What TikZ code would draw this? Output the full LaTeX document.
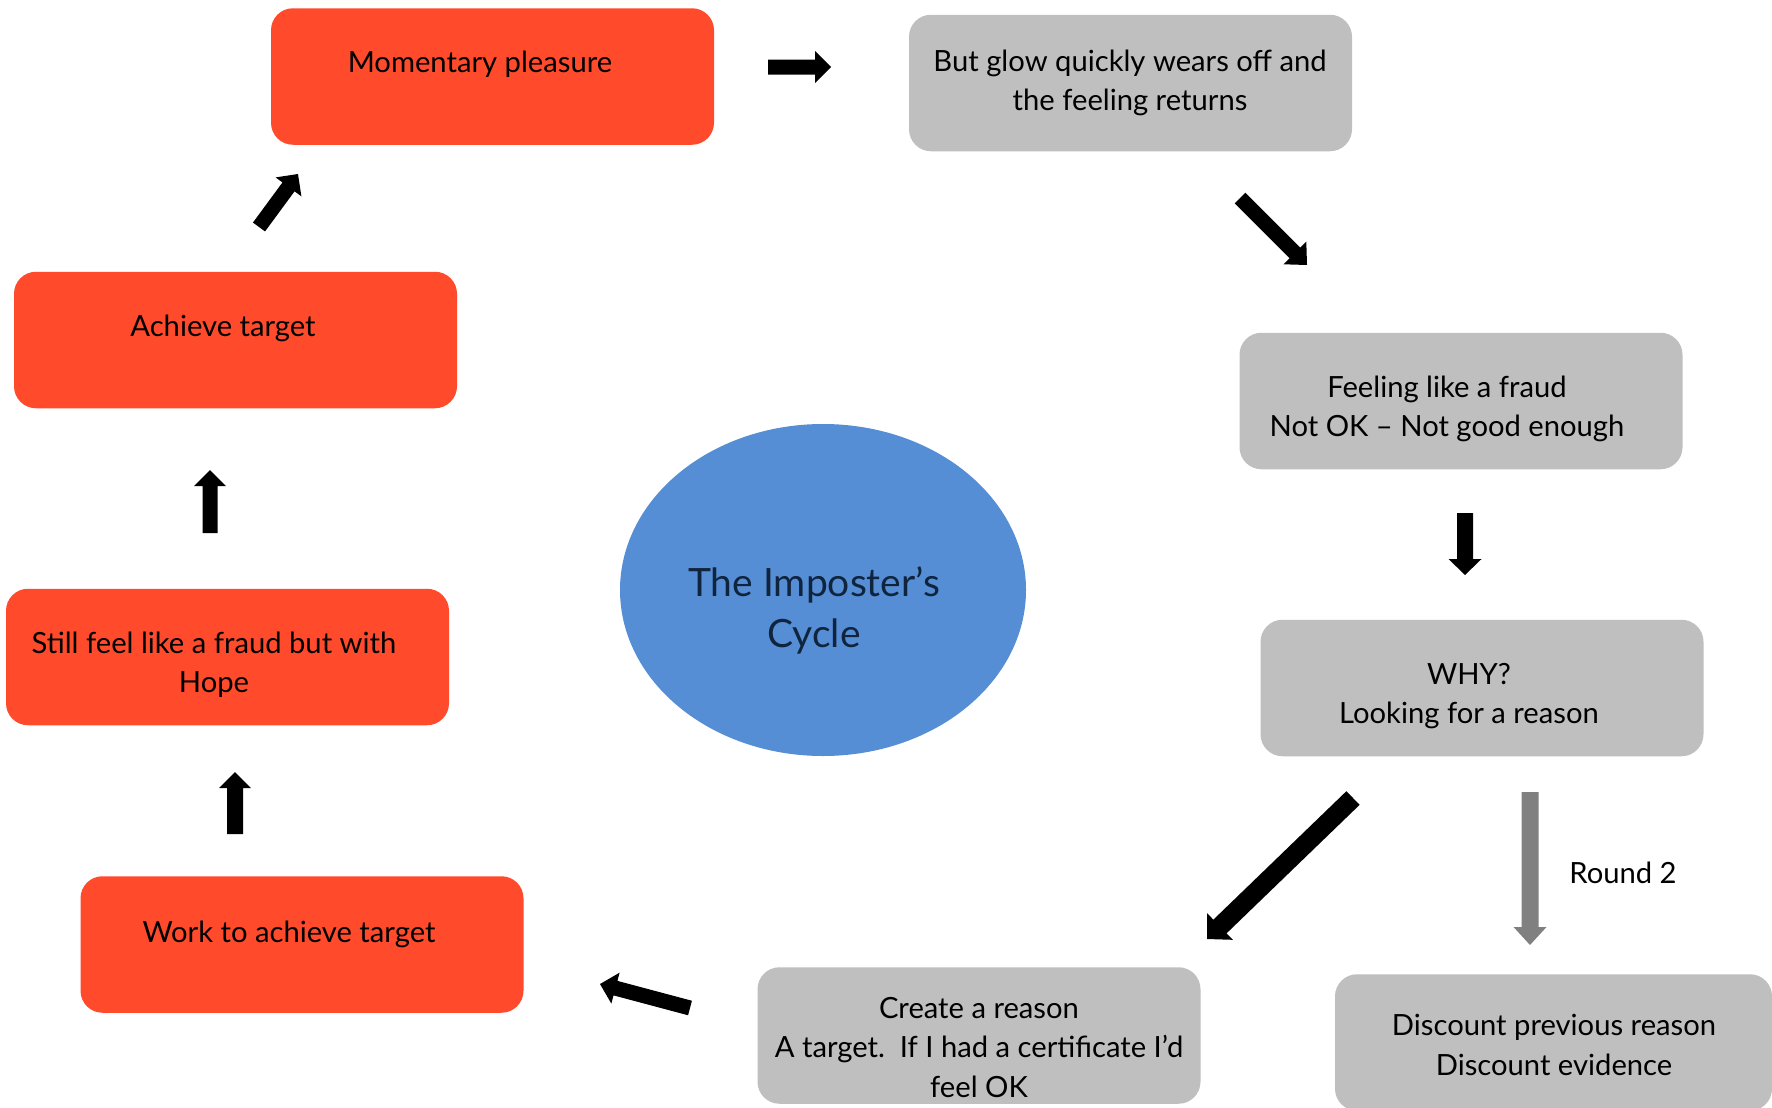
\documentclass[tikz,border=0pt]{standalone}
\usepackage{fontspec}
\setmainfont{Lato}
\usetikzlibrary{calc,shapes.geometric}

\definecolor{boxred}{RGB}{255,74,43}
\definecolor{boxgrey}{RGB}{191,191,191}
\definecolor{cycleblue}{RGB}{85,142,213}
\definecolor{cycletext}{RGB}{16,36,62}
\definecolor{roundgrey}{RGB}{128,128,128}

% Block arrow: [colour]{tail}{tip}{half shaft}{half head}{head length}
\newcommand\blockarrow[6][black]{%
  \coordinate (#3-base) at ($(#3)!#6!(#2)$);
  \fill[#1] ($(#2)!#4!90:(#3)$) -- ($(#3-base)!#4!90:(#3)$)
    -- ($(#3-base)!#5!90:(#3)$) -- (#3)
    -- ($(#3-base)!#5!-90:(#3)$) -- ($(#3-base)!#4!-90:(#3)$)
    -- ($(#2)!#4!-90:(#3)$) -- cycle;
}

\tikzset{
  card/.style={rounded corners=11pt, minimum width=221.5pt, minimum height=68.25pt,
    inner sep=0pt, draw=none},
  redcard/.style={card, fill=boxred},
  greycard/.style={card, fill=boxgrey},
  cardtext/.style={align=center, inner sep=0pt, font=\fontsize{14.6}{19.6}\selectfont},
}

\begin{document}
\begin{tikzpicture}[x=0.5pt, y=-0.5pt]
\useasboundingbox (0,0) rectangle (1772,1108);

% red half of the cycle
\node[redcard] (mp) at (492.5,76.5) {};
\node[redcard] (ach) at (235.5,340) {};
\node[redcard] (still) at (227.5,657) {};
\node[redcard] (work) at (302,944.5) {};

% grey half of the cycle
\node[greycard] (glow) at (1130.5,83) {};
\node[greycard] (fraud) at (1461,401) {};
\node[greycard] (why) at (1482,688) {};
\node[greycard] (create) at (979,1035.5) {};
\node[greycard, minimum width=218.5pt] (disc) at (1553.5,1042.5) {};

% centre ellipse
\node[ellipse, fill=cycleblue, minimum width=203pt, minimum height=166pt, inner sep=0pt] (cycle) at (823,590) {};
\node[align=center, inner sep=0pt, text=cycletext, font=\fontsize{19.5}{25.8}\selectfont] (cycle-t) at (814,610.5) {The Imposter’s\\Cycle};

% card texts
\node[cardtext] (mp-t) at (480,64) {Momentary pleasure};
\node[cardtext] (glow-t) at (1130,83) {But glow quickly wears off and\\the feeling returns};
\node[cardtext] (fraud-t) at (1447,409) {Feeling like a fraud\\Not OK – Not good enough};
\node[cardtext] (why-t) at (1469,696) {WHY?\\Looking for a reason};
\node[cardtext] (disc-t) at (1554,1045) {Discount previous reason\\Discount evidence};
\node[cardtext] (create-t) at (979,1047.5) {Create a reason\\A target.\ \ If I had a certificate I’d\\feel OK};
\node[cardtext] (work-t) at (289,934) {Work to achieve target};
\node[cardtext] (still-t) at (214,665) {Still feel like a fraud but with\\Hope};
\node[cardtext] (ach-t) at (223,328) {Achieve target};
\node[cardtext] (round-t) at (1623,873) {Round 2};

% arrow end points
\coordinate (a1s) at (768,67);    \coordinate (a1e) at (831,67);
\coordinate (a2s) at (1240,198);  \coordinate (a2e) at (1307,265);
\coordinate (a3s) at (1465,513);  \coordinate (a3e) at (1465,575);
\coordinate (a4s) at (1353,798);  \coordinate (a4e) at (1207,939);
\coordinate (a5s) at (1530,792);  \coordinate (a5e) at (1530,945);
\coordinate (a6s) at (690,1008);  \coordinate (a6e) at (600,984);
\coordinate (a7s) at (235,834);   \coordinate (a7e) at (235,772);
\coordinate (a8s) at (210,533);   \coordinate (a8e) at (210,470);
\coordinate (a9s) at (259,227);   \coordinate (a9e) at (298,174);

% arrows around the cycle
\blockarrow{a1s}{a1e}{3.75pt}{8pt}{8pt}
\blockarrow{a2s}{a2e}{3.75pt}{8pt}{8.5pt}
\blockarrow{a3s}{a3e}{4pt}{8.25pt}{8pt}
\blockarrow{a4s}{a4e}{4.75pt}{9.25pt}{9pt}
\blockarrow[roundgrey]{a5s}{a5e}{4.25pt}{8.25pt}{9pt}
\blockarrow{a6s}{a6e}{3.75pt}{8pt}{8pt}
\blockarrow{a7s}{a7e}{4pt}{8pt}{8pt}
\blockarrow{a8s}{a8e}{3.75pt}{8pt}{8pt}
\blockarrow{a9s}{a9e}{3.75pt}{8pt}{8pt}
\end{tikzpicture}
\end{document}
